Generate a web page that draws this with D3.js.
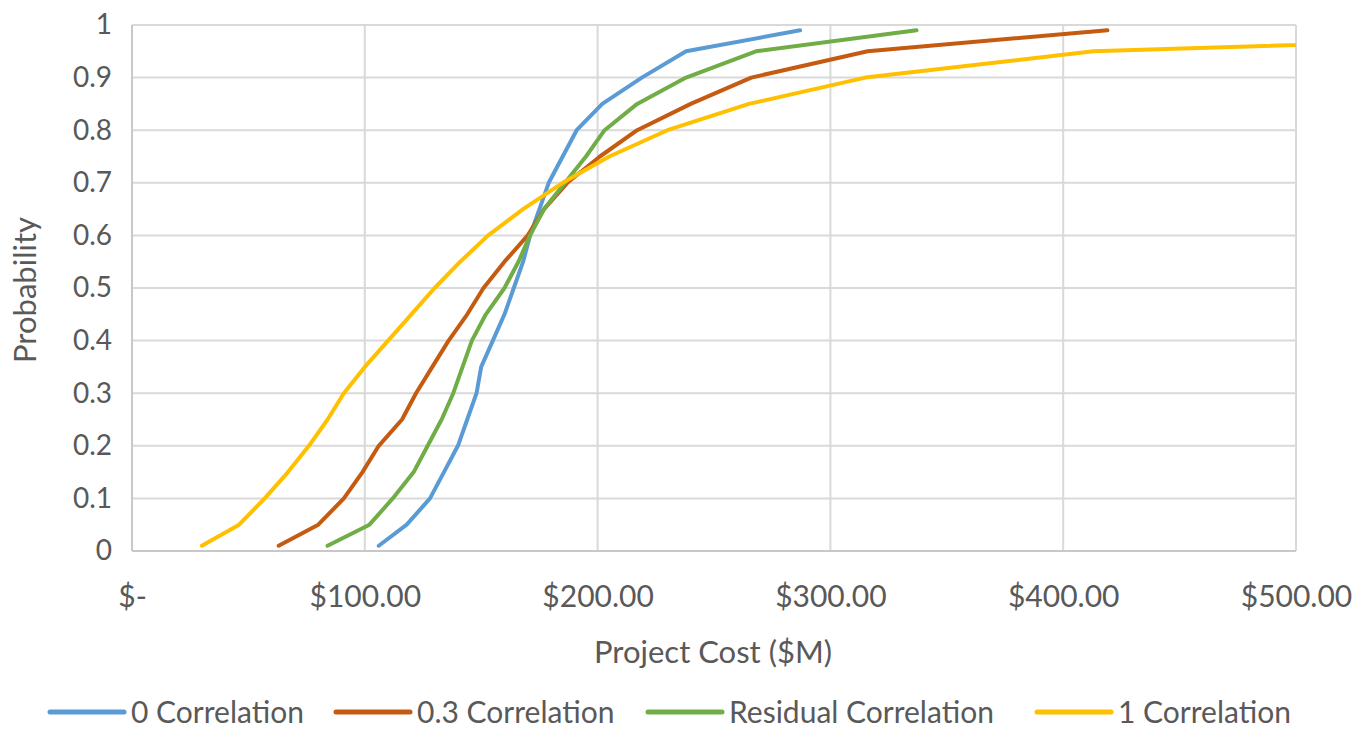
<!DOCTYPE html>
<html>
<head>
<meta charset="utf-8">
<script src="https://cdn.jsdelivr.net/npm/d3@7"></script>
<style>
  html, body { margin: 0; padding: 0; background: #ffffff; }
  svg { display: block; }
  text { font-family: Lato, "Open Sans", sans-serif; fill: #595959; }
</style>
</head>
<body>
<svg id="chart" width="1358" height="730"></svg>
<script>
// Cumulative probability levels (y values shared by all series)
const probabilities = [0.01, 0.05, 0.10, 0.15, 0.20, 0.25, 0.30, 0.35, 0.40, 0.45, 0.50,
                       0.55, 0.60, 0.65, 0.70, 0.75, 0.80, 0.85, 0.90, 0.95, 0.99];
// Project cost ($M) at each probability level, per series
const cost0Corr   = [106, 118, 128, 134, 140, 144, 148, 150, 155, 160, 164, 168, 171, 175, 179, 185, 191, 202, 219, 238, 287];
const cost03Corr  = [63, 80, 91, 99, 106, 116, 122, 129, 136, 144, 151, 160, 170, 177, 187, 201, 217, 240, 266, 316, 419];
const costResCorr = [84, 102, 112, 121, 127, 133, 138, 142, 146, 152, 160, 166, 171, 177, 186, 195, 203, 217, 238, 268, 337];
const cost1Corr   = [30, 46, 57, 67, 76, 84, 91, 100, 110, 120, 130, 141, 153, 168, 185, 205, 230, 265, 315, 413, 705];

const seriesNames  = ["0 Correlation", "0.3 Correlation", "Residual Correlation", "1 Correlation"];
const seriesColors = ["#5B9BD5", "#C55A11", "#70AD47", "#FFC000"];
const seriesValues = [cost0Corr, cost03Corr, costResCorr, cost1Corr];

const xTickValues = [0, 100, 200, 300, 400, 500];
const xTickLabels = ["$-", "$100.00", "$200.00", "$300.00", "$400.00", "$500.00"];
const yTickValues = [0, 0.1, 0.2, 0.3, 0.4, 0.5, 0.6, 0.7, 0.8, 0.9, 1];
const yTickLabels = ["0", "0.1", "0.2", "0.3", "0.4", "0.5", "0.6", "0.7", "0.8", "0.9", "1"];

const svg = d3.select("#chart");
const plot = { left: 132, right: 1296, top: 25, bottom: 551 };

const x = d3.scaleLinear().domain([0, 500]).range([plot.left, plot.right]);
const y = d3.scaleLinear().domain([0, 1]).range([plot.bottom, plot.top]);

// Gridlines
svg.append("g").selectAll("line").data(yTickValues.filter(v => v > 0)).join("line")
  .attr("x1", plot.left).attr("x2", plot.right)
  .attr("y1", d => y(d)).attr("y2", d => y(d))
  .attr("stroke", "#d9d9d9").attr("stroke-width", 2);
svg.append("g").selectAll("line").data(xTickValues.filter(v => v > 0)).join("line")
  .attr("x1", d => x(d)).attr("x2", d => x(d))
  .attr("y1", plot.top).attr("y2", plot.bottom)
  .attr("stroke", "#d9d9d9").attr("stroke-width", 2);

// Axis lines
svg.append("line").attr("x1", plot.left).attr("x2", plot.left)
  .attr("y1", plot.top).attr("y2", plot.bottom)
  .attr("stroke", "#c8c8c8").attr("stroke-width", 2);
svg.append("line").attr("x1", plot.left).attr("x2", plot.right)
  .attr("y1", plot.bottom).attr("y2", plot.bottom)
  .attr("stroke", "#c8c8c8").attr("stroke-width", 2);

// Y axis via d3.axisLeft
const yAxis = d3.axisLeft(y).tickValues(yTickValues)
  .tickFormat((d, i) => yTickLabels[i]).tickSize(0).tickPadding(20);
const gy = svg.append("g").attr("transform", `translate(${plot.left},0)`).call(yAxis);
gy.select(".domain").remove();
gy.selectAll("text").style("font-size", "28px").attr("fill", "#595959")
  .style("font-family", "Lato, 'Open Sans', sans-serif");

// X axis via d3.axisBottom
const xAxis = d3.axisBottom(x).tickValues(xTickValues)
  .tickFormat((d, i) => xTickLabels[i]).tickSize(0).tickPadding(35);
const gx = svg.append("g").attr("transform", `translate(0,${plot.bottom})`).call(xAxis);
gx.select(".domain").remove();
gx.selectAll("text").style("font-size", "30px").attr("fill", "#595959")
  .style("font-family", "Lato, 'Open Sans', sans-serif");

// Axis titles
svg.append("text").attr("x", 713).attr("y", 663).attr("text-anchor", "middle")
  .style("font-size", "31px").text("Project Cost ($M)");
svg.append("text").attr("transform", "translate(36,290) rotate(-90)")
  .attr("text-anchor", "middle").style("font-size", "31px").text("Probability");

// Lines (clipped to plot area)
svg.append("defs").append("clipPath").attr("id", "clip")
  .append("rect").attr("x", plot.left).attr("y", 0)
  .attr("width", plot.right - plot.left).attr("height", plot.bottom + 5);

const line = d3.line().x(d => x(d[0])).y(d => y(d[1]));
const gl = svg.append("g").attr("clip-path", "url(#clip)");
seriesValues.forEach((vals, i) => {
  const pts = vals.map((v, j) => [v, probabilities[j]]);
  gl.append("path").datum(pts)
    .attr("fill", "none").attr("stroke", seriesColors[i])
    .attr("stroke-width", 4).attr("stroke-linejoin", "round").attr("stroke-linecap", "round")
    .attr("d", line);
});

// Legend: line sample starts as in the reference layout
const legY = 712;
const legStarts = [50, 336, 648, 1037];
const leg = svg.append("g");
seriesNames.forEach((name, i) => {
  const g = leg.append("g");
  const sx = legStarts[i];
  g.append("line").attr("x1", sx).attr("x2", sx + 74).attr("y1", legY).attr("y2", legY)
    .attr("stroke", seriesColors[i]).attr("stroke-width", 5).attr("stroke-linecap", "round");
  g.append("text").attr("x", sx + 81).attr("y", legY).attr("dy", "0.36em")
    .style("font-size", "30px").text(name);
});
</script>
</body>
</html>
